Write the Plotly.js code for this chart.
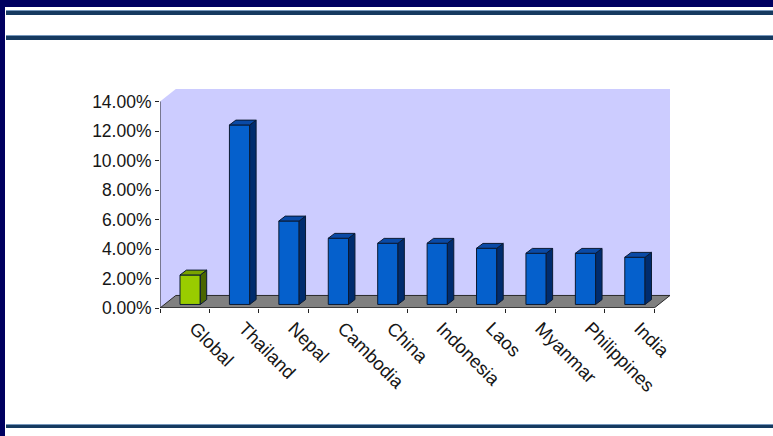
<!DOCTYPE html>
<html>
<head>
<meta charset="utf-8">
<script src="https://cdn.plot.ly/plotly-3.0.1.min.js"></script>
<style>
  html, body { margin:0; padding:0; }
  body { width:773px; height:436px; background:#000060; position:relative; overflow:hidden; }
  #panel { position:absolute; left:5px; top:7px; width:768px; height:429px; background:#ffffff; }
  .rule { position:absolute; left:6px; width:767px; background:#163a60; border-top:1px solid #7596bb; }
  #chart { position:absolute; left:0; top:0; width:773px; height:436px; }
</style>
</head>
<body>
<div id="panel"></div>
<div class="rule" style="top:10px;height:4px;"></div>
<div class="rule" style="top:35px;height:4px;"></div>
<div class="rule" style="top:424px;height:3px;"></div>
<div id="chart"></div>
<script>
const categories = ['Global','Thailand','Nepal','Cambodia','China','Indonesia','Laos','Myanmar','Philippines','India'];
const values = [2.0, 12.17, 5.66, 4.49, 4.15, 4.15, 3.81, 3.47, 3.47, 3.2];
const yTickVals = [0, 2, 4, 6, 8, 10, 12, 14];
const yTickText = ['0.00%', '2.00%', '4.00%', '6.00%', '8.00%', '10.00%', '12.00%', '14.00%'];

// 3D look parameters (styling)
const floorDX = 0.32, floorDY = 0.85;   // depth of floor/wall
const barDX = 0.13, barDY = 0.33;       // depth of each bar
const barBase = 0.24, barW = 0.41, barOff = -0.095;
const xMin = -0.5, xMax = categories.length - 0.5 + floorDX, yMax = 14 + floorDY;

const frontCol = categories.map((c,i) => i === 0 ? '#99cc00' : '#0560cc');
const sideCol  = categories.map((c,i) => i === 0 ? '#4a6600' : '#002c6e');
const topCol   = categories.map((c,i) => i === 0 ? '#7aa300' : '#0a4aa6');
const edge = '#0b1a33';

const xs = categories.map((c,i) => i);
const traces = [];
traces.push({
  type:'bar', x: xs, y: values, base: barBase, width: barW, offset: barOff,
  marker:{ color: frontCol, line:{ color: edge, width: 1 } },
  hoverinfo:'skip', showlegend:false
});
values.forEach((v, i) => {
  const x0 = i + barOff, x1 = x0 + barW, yb = barBase, yt = barBase + v;
  traces.push({
    type:'scatter', mode:'lines', fill:'toself', fillcolor: sideCol[i],
    x:[x1, x1+barDX, x1+barDX, x1, x1], y:[yb, yb+barDY, yt+barDY, yt, yb],
    line:{ color: edge, width: 1 }, hoverinfo:'skip', showlegend:false
  });
  traces.push({
    type:'scatter', mode:'lines', fill:'toself', fillcolor: topCol[i],
    x:[x0, x0+barDX, x1+barDX, x1, x0], y:[yt, yt+barDY, yt+barDY, yt, yt],
    line:{ color: edge, width: 1 }, hoverinfo:'skip', showlegend:false
  });
});

const nC = categories.length;
const boundaries = Array.from({length: nC + 1}, (_, k) => k - 0.5);

const shapes = [
  { type:'path', xref:'x', yref:'y', layer:'below',
    path:`M ${xMin},0 L ${xMin},14 L ${xMin+floorDX},${yMax} L ${xMax},${yMax} L ${xMax},${floorDY} L ${nC-0.5},0 Z`,
    fillcolor:'#ccccff', line:{ width:0 } },
  { type:'path', xref:'x', yref:'y', layer:'below',
    path:`M ${xMin},0 L ${xMin+floorDX},${floorDY} L ${xMax},${floorDY} L ${nC-0.5},0 Z`,
    fillcolor:'#808080', line:{ color:'#2a2a2a', width:1 } },
  { type:'line', xref:'x', yref:'y', layer:'below', x0:xMin, y0:0, x1:xMin, y1:14,
    line:{ color:'#222222', width:1 } },
  { type:'line', xref:'x', yref:'y', layer:'below', x0:xMin, y0:0, x1:nC-0.5, y1:0,
    line:{ color:'#222222', width:1 } }
];

const font = { family:'"Liberation Sans", Arial, sans-serif', size:17.5, color:'#161616' };
const xfont = { family:'"Liberation Sans", Arial, sans-serif', size:18.5, color:'#161616' };
const layout = {
  width:773, height:436,
  margin:{ l:160, r:103, t:89, b:128 },
  paper_bgcolor:'rgba(0,0,0,0)', plot_bgcolor:'rgba(0,0,0,0)',
  font: font,
  showlegend:false,
  bargap:0,
  xaxis:{
    range:[xMin, xMax], showgrid:false, zeroline:false, showline:false,
    tickmode:'array', tickvals: xs, ticktext: categories, tickangle:45,
    ticks:'', tickfont: xfont, fixedrange:true,
    ticklabelshift: 10, ticklabelstandoff: 5,
    minor:{ tickmode:'array', tickvals: boundaries, ticks:'outside', ticklen:4, tickcolor:'#222222', showgrid:false }
  },
  yaxis:{
    range:[0, yMax], showgrid:false, zeroline:false, showline:false,
    tickmode:'array', tickvals: yTickVals, ticktext: yTickText,
    ticks:'outside', ticklen:4, tickcolor:'#222222', tickfont: font, fixedrange:true
  },
  shapes: shapes
};
Plotly.newPlot('chart', traces, layout, { staticPlot:true, displayModeBar:false });
</script>
</body>
</html>
